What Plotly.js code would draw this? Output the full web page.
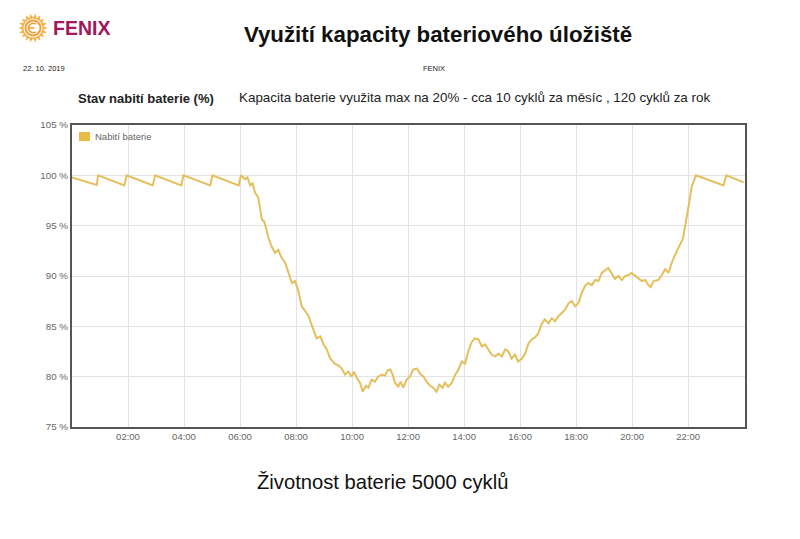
<!DOCTYPE html>
<html>
<head>
<meta charset="utf-8">
<script src="https://cdn.plot.ly/plotly-3.0.1.min.js"></script>
<style>
  html, body { margin: 0; padding: 0; background: #ffffff; }
  #wrap { position: relative; width: 800px; height: 539px; }
  #chart { position: absolute; left: 0; top: 0; width: 800px; height: 539px; }
  #logo { position: absolute; left: 18px; top: 13px; }
</style>
</head>
<body>
<div id="wrap">
  <div id="chart"></div>
  <svg id="logo" width="30" height="30" viewBox="0 0 30 30"></svg>
</div>
<script>
// ---- data ----
const day = "2019-10-22";
const times = [
  "00:00","00:53","00:56","01:52","01:57","02:53","02:58","03:54","03:59","04:56","05:01","05:57","06:02",
  "06:11","06:16","06:22","06:27","06:32","06:39","06:47","06:52","07:01","07:08","07:15","07:22","07:29",
  "07:37","07:44","07:51","07:58","08:05","08:12","08:19","08:26","08:30","08:37","08:44","08:52","08:59",
  "09:06","09:13","09:23","09:31","09:38","09:45","09:52","09:59","10:04","10:10","10:17","10:23","10:30",
  "10:35","10:42","10:49","10:56","11:04","11:11","11:16","11:22","11:27","11:32","11:39","11:44","11:50",
  "11:57","12:04","12:11","12:19","12:26","12:33","12:40","12:47","12:54","13:01","13:07","13:14","13:19",
  "13:26","13:34","13:41","13:48","13:55","14:02","14:09","14:16","14:23","14:31","14:38","14:45","14:52",
  "14:59","15:07","15:14","15:21","15:28","15:35","15:42","15:49","15:56","16:04","16:11","16:18","16:25",
  "16:32","16:39","16:46","16:53","17:01","17:08","17:15","17:22","17:29","17:37","17:44","17:51","17:58",
  "18:05","18:12","18:19","18:26","18:34","18:41","18:48","18:55","19:02","19:09","19:16","19:23","19:31",
  "19:38","19:45","19:52","19:59","20:07","20:14","20:21","20:28","20:35","20:40","20:46","20:56","21:04",
  "21:11","21:18","21:25","21:36","21:49","21:53","22:01","22:08","22:17","23:16","23:22","23:59"
];
const charge = [
  99.8,99.05,100.0,99.0,100.0,99.0,100.0,99.0,100.0,99.0,100.0,99.0,100.0,
  99.6,99.8,99.0,99.2,98.3,97.8,95.6,95.4,93.8,92.9,92.3,92.6,91.8,
  91.3,90.3,89.3,89.5,88.5,87.0,86.6,86.1,85.6,84.6,83.8,84.0,83.2,
  82.7,81.8,81.3,81.1,80.8,80.2,80.5,80.0,80.5,79.9,79.4,78.5,79.1,
  78.9,79.7,79.5,80.0,80.2,80.1,80.6,80.7,80.2,79.4,79.0,79.5,78.9,
  79.7,80.0,80.7,80.8,80.3,80.0,79.5,79.1,78.9,78.5,79.2,78.9,79.4,
  79.0,79.4,80.2,80.7,81.5,81.3,82.5,83.4,83.8,83.7,83.0,83.2,82.7,
  82.2,82.0,82.3,82.0,82.7,82.5,81.8,82.2,81.5,81.8,82.3,83.3,83.7,
  83.9,84.3,85.2,85.7,85.3,85.8,85.5,86.0,86.3,86.7,87.3,87.5,87.0,
  87.3,88.3,89.0,89.3,89.1,89.6,89.5,90.3,90.6,90.8,90.3,89.7,90.0,
  89.6,90.0,90.1,90.3,90.0,89.8,89.5,89.6,89.1,88.9,89.5,89.6,90.1,
  90.7,90.3,91.3,92.5,93.7,94.9,96.9,98.9,100.0,99.0,100.0,99.3
];
const yTicks = [75, 80, 85, 90, 95, 100, 105];
const yTickLabels = ["75 %", "80 %", "85 %", "90 %", "95 %", "100 %", "105 %"];
const xTickLabels = ["02:00","04:00","06:00","08:00","10:00","12:00","14:00","16:00","18:00","20:00","22:00"];
const seriesName = "Nabití baterie";

// ---- layout helpers (plot area in pixels: x 72..745, y 125..427) ----
const L = 72, R = 745, T = 125, B = 427;
const px = x => (x - L) / (R - L);
const py = y => (B - y) / (B - T);
const font = "Liberation Sans, Arial, Helvetica, sans-serif";
const lineColor = "#e4bf5c";

const trace = {
  type: "scatter",
  mode: "lines",
  x: times.map(t => day + " " + t),
  y: charge,
  name: seriesName,
  line: { color: lineColor, width: 2 },
  showlegend: false,
  hoverinfo: "skip"
};

const ann = (text, x, y, size, opts) => Object.assign({
  text: text, xref: "paper", yref: "paper", x: px(x), y: py(y),
  showarrow: false, xanchor: "left", yanchor: "middle",
  font: { family: font, size: size, color: "#222" }
}, opts || {});

const layout = {
  width: 800, height: 539,
  margin: { l: L, r: 800 - R, t: T, b: 539 - B, pad: 0 },
  paper_bgcolor: "#ffffff",
  plot_bgcolor: "#ffffff",
  title: {
    text: "<b>Využití kapacity bateriového úložiště</b>",
    x: 438 / 800, xanchor: "center", xref: "container",
    y: 1 - 34 / 539, yanchor: "middle", yref: "container",
    font: { family: font, size: 22.3, color: "#111" }
  },
  xaxis: {
    type: "date",
    range: [day + " 00:00", "2019-10-23 00:02"],
    tickvals: xTickLabels.map(t => day + " " + t),
    ticktext: xTickLabels,
    ticks: "",
    showgrid: true, gridcolor: "#e3e3e3", gridwidth: 1,
    showline: true, linecolor: "#555", linewidth: 2, mirror: true,
    zeroline: false,
    tickfont: { family: font, size: 9.5, color: "#666" }
  },
  yaxis: {
    range: [75, 105],
    tickvals: yTicks,
    ticktext: yTickLabels,
    ticks: "",
    showgrid: true, gridcolor: "#e3e3e3", gridwidth: 1,
    showline: true, linecolor: "#555", linewidth: 2, mirror: true,
    zeroline: false,
    tickfont: { family: font, size: 9.8, color: "#666" }
  },
  shapes: [
    { type: "rect", xref: "paper", yref: "paper",
      x0: px(79), x1: px(90), y0: py(141), y1: py(132),
      fillcolor: "#e8bb45", line: { width: 0 } }
  ],
  annotations: [
    ann("<b>FENIX</b>", 51, 28, 19.5, { font: { family: font, size: 19.5, color: "#a0185a" } }),
    ann("22. 10. 2019", 21, 69, 7.5),
    ann("FENIX", 434, 69, 7.5, { xanchor: "center" }),
    ann("<b>Stav nabití baterie (%)</b>", 76, 98, 13),
    ann("Kapacita baterie využita max na 20% - cca 10 cyklů za měsíc , 120 cyklů za rok", 237, 97, 13.4),
    ann(seriesName, 93, 136, 9.5, { font: { family: font, size: 9.5, color: "#666" } }),
    ann("Životnost baterie 5000 cyklů", 382, 482, 20.2, { xanchor: "center", font: { family: font, size: 20.2, color: "#111" } })
  ],
  showlegend: false
};

Plotly.newPlot("chart", [trace], layout, { displayModeBar: false, staticPlot: true });

// ---- logo icon (decoration) ----
(function () {
  const svg = document.getElementById("logo");
  const ns = "http://www.w3.org/2000/svg";
  const pts = [];
  const n = 18;
  for (let i = 0; i < n * 2; i++) {
    const r = i % 2 === 0 ? 14.5 : 10.5;
    const a = Math.PI * i / n;
    pts.push((15 + r * Math.cos(a)).toFixed(2) + "," + (15 + r * Math.sin(a)).toFixed(2));
  }
  const star = document.createElementNS(ns, "polygon");
  star.setAttribute("points", pts.join(" "));
  star.setAttribute("fill", "#f6b04a");
  svg.appendChild(star);
  const c1 = document.createElementNS(ns, "circle");
  c1.setAttribute("cx", 15); c1.setAttribute("cy", 15); c1.setAttribute("r", 9.5);
  c1.setAttribute("fill", "#ffffff");
  svg.appendChild(c1);
  const c2 = document.createElementNS(ns, "circle");
  c2.setAttribute("cx", 15); c2.setAttribute("cy", 15); c2.setAttribute("r", 7.5);
  c2.setAttribute("fill", "none"); c2.setAttribute("stroke", "#f0a036"); c2.setAttribute("stroke-width", 2);
  svg.appendChild(c2);
  const p = document.createElementNS(ns, "path");
  p.setAttribute("d", "M17.8 11.2 A4.6 4.6 0 1 0 17.8 18.8 M11.2 15 L16.5 15");
  p.setAttribute("fill", "none"); p.setAttribute("stroke", "#f0a036"); p.setAttribute("stroke-width", 1.6);
  svg.appendChild(p);
})();
</script>
</body>
</html>
